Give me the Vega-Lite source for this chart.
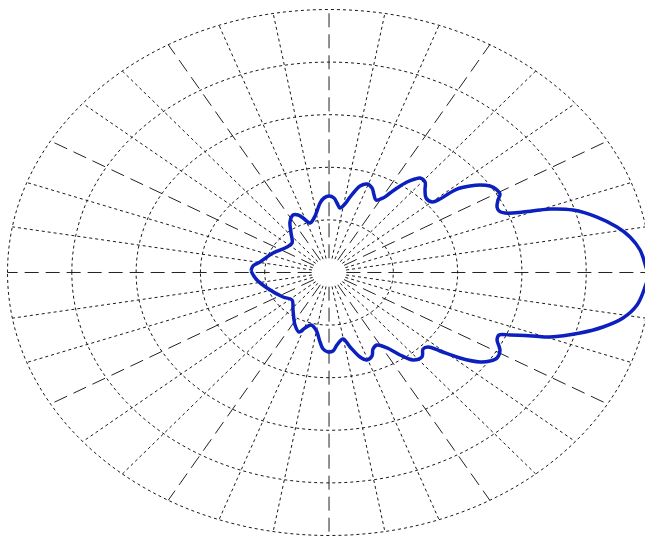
{
  "$schema": "https://vega.github.io/schema/vega-lite/v6.json",
  "width": 645,
  "height": 538,
  "autosize": "none",
  "padding": 0,
  "background": "white",
  "config": {"view": {"stroke": null}},
  "datasets": {
    "rings": [{"r": 1}, {"r": 2}, {"r": 3}, {"r": 4}, {"r": 5}],
    "spokes": [
      {"a": 0, "kind": "major", "x": 0.27, "y": 0, "x2": 5, "y2": 0},
      {"a": 10, "kind": "minor", "x": 0.266, "y": 0.047, "x2": 4.924, "y2": 0.868},
      {"a": 20, "kind": "minor", "x": 0.254, "y": 0.092, "x2": 4.698, "y2": 1.71},
      {"a": 30, "kind": "major", "x": 0.234, "y": 0.135, "x2": 4.33, "y2": 2.5},
      {"a": 40, "kind": "minor", "x": 0.207, "y": 0.174, "x2": 3.83, "y2": 3.214},
      {"a": 50, "kind": "minor", "x": 0.174, "y": 0.207, "x2": 3.214, "y2": 3.83},
      {"a": 60, "kind": "major", "x": 0.135, "y": 0.234, "x2": 2.5, "y2": 4.33},
      {"a": 70, "kind": "minor", "x": 0.092, "y": 0.254, "x2": 1.71, "y2": 4.698},
      {"a": 80, "kind": "minor", "x": 0.047, "y": 0.266, "x2": 0.868, "y2": 4.924},
      {"a": 90, "kind": "major", "x": 0, "y": 0.27, "x2": 0, "y2": 5},
      {"a": 100, "kind": "minor", "x": -0.047, "y": 0.266, "x2": -0.868, "y2": 4.924},
      {"a": 110, "kind": "minor", "x": -0.092, "y": 0.254, "x2": -1.71, "y2": 4.698},
      {"a": 120, "kind": "major", "x": -0.135, "y": 0.234, "x2": -2.5, "y2": 4.33},
      {"a": 130, "kind": "minor", "x": -0.174, "y": 0.207, "x2": -3.214, "y2": 3.83},
      {"a": 140, "kind": "minor", "x": -0.207, "y": 0.174, "x2": -3.83, "y2": 3.214},
      {"a": 150, "kind": "major", "x": -0.234, "y": 0.135, "x2": -4.33, "y2": 2.5},
      {"a": 160, "kind": "minor", "x": -0.254, "y": 0.092, "x2": -4.698, "y2": 1.71},
      {"a": 170, "kind": "minor", "x": -0.266, "y": 0.047, "x2": -4.924, "y2": 0.868},
      {"a": 180, "kind": "major", "x": -0.27, "y": 0, "x2": -5, "y2": 0},
      {"a": 190, "kind": "minor", "x": -0.266, "y": -0.047, "x2": -4.924, "y2": -0.868},
      {"a": 200, "kind": "minor", "x": -0.254, "y": -0.092, "x2": -4.698, "y2": -1.71},
      {"a": 210, "kind": "major", "x": -0.234, "y": -0.135, "x2": -4.33, "y2": -2.5},
      {"a": 220, "kind": "minor", "x": -0.207, "y": -0.174, "x2": -3.83, "y2": -3.214},
      {"a": 230, "kind": "minor", "x": -0.174, "y": -0.207, "x2": -3.214, "y2": -3.83},
      {"a": 240, "kind": "major", "x": -0.135, "y": -0.234, "x2": -2.5, "y2": -4.33},
      {"a": 250, "kind": "minor", "x": -0.092, "y": -0.254, "x2": -1.71, "y2": -4.698},
      {"a": 260, "kind": "minor", "x": -0.047, "y": -0.266, "x2": -0.868, "y2": -4.924},
      {"a": 270, "kind": "major", "x": 0, "y": -0.27, "x2": 0, "y2": -5},
      {"a": 280, "kind": "minor", "x": 0.047, "y": -0.266, "x2": 0.868, "y2": -4.924},
      {"a": 290, "kind": "minor", "x": 0.092, "y": -0.254, "x2": 1.71, "y2": -4.698},
      {"a": 300, "kind": "major", "x": 0.135, "y": -0.234, "x2": 2.5, "y2": -4.33},
      {"a": 310, "kind": "minor", "x": 0.174, "y": -0.207, "x2": 3.214, "y2": -3.83},
      {"a": 320, "kind": "minor", "x": 0.207, "y": -0.174, "x2": 3.83, "y2": -3.214},
      {"a": 330, "kind": "major", "x": 0.234, "y": -0.135, "x2": 4.33, "y2": -2.5},
      {"a": 340, "kind": "minor", "x": 0.254, "y": -0.092, "x2": 4.698, "y2": -1.71},
      {"a": 350, "kind": "minor", "x": 0.266, "y": -0.047, "x2": 4.924, "y2": -0.868}
    ],
    "pattern": [
      {"i": 1, "x": -1.213, "y": 0.029},
      {"i": 2, "x": -1.182, "y": 0.124},
      {"i": 3, "x": -1.073, "y": 0.2},
      {"i": 4, "x": -0.871, "y": 0.371},
      {"i": 5, "x": -0.653, "y": 0.485},
      {"i": 6, "x": -0.575, "y": 0.561},
      {"i": 7, "x": -0.591, "y": 0.751},
      {"i": 8, "x": -0.607, "y": 0.96},
      {"i": 9, "x": -0.56, "y": 1.093},
      {"i": 10, "x": -0.482, "y": 1.093},
      {"i": 11, "x": -0.404, "y": 1.036},
      {"i": 12, "x": -0.295, "y": 0.941},
      {"i": 13, "x": -0.233, "y": 1.036},
      {"i": 14, "x": -0.187, "y": 1.169},
      {"i": 15, "x": -0.14, "y": 1.321},
      {"i": 16, "x": -0.078, "y": 1.416},
      {"i": 17, "x": 0, "y": 1.454},
      {"i": 18, "x": 0.078, "y": 1.416},
      {"i": 19, "x": 0.124, "y": 1.321},
      {"i": 20, "x": 0.171, "y": 1.226},
      {"i": 21, "x": 0.233, "y": 1.283},
      {"i": 22, "x": 0.327, "y": 1.435},
      {"i": 23, "x": 0.404, "y": 1.549},
      {"i": 24, "x": 0.482, "y": 1.644},
      {"i": 25, "x": 0.591, "y": 1.683},
      {"i": 26, "x": 0.669, "y": 1.606},
      {"i": 27, "x": 0.7, "y": 1.473},
      {"i": 28, "x": 0.731, "y": 1.378},
      {"i": 29, "x": 0.84, "y": 1.416},
      {"i": 30, "x": 0.949, "y": 1.511},
      {"i": 31, "x": 1.058, "y": 1.606},
      {"i": 32, "x": 1.213, "y": 1.721},
      {"i": 33, "x": 1.337, "y": 1.778},
      {"i": 34, "x": 1.415, "y": 1.797},
      {"i": 35, "x": 1.493, "y": 1.721},
      {"i": 36, "x": 1.493, "y": 1.568},
      {"i": 37, "x": 1.509, "y": 1.416},
      {"i": 38, "x": 1.602, "y": 1.34},
      {"i": 39, "x": 1.726, "y": 1.397},
      {"i": 40, "x": 1.851, "y": 1.492},
      {"i": 41, "x": 1.991, "y": 1.587},
      {"i": 42, "x": 2.193, "y": 1.644},
      {"i": 43, "x": 2.348, "y": 1.663},
      {"i": 44, "x": 2.504, "y": 1.644},
      {"i": 45, "x": 2.597, "y": 1.587},
      {"i": 46, "x": 2.659, "y": 1.492},
      {"i": 47, "x": 2.628, "y": 1.378},
      {"i": 48, "x": 2.613, "y": 1.245},
      {"i": 49, "x": 2.644, "y": 1.169},
      {"i": 50, "x": 2.737, "y": 1.131},
      {"i": 51, "x": 3.017, "y": 1.15},
      {"i": 52, "x": 3.281, "y": 1.188},
      {"i": 53, "x": 3.437, "y": 1.207},
      {"i": 54, "x": 3.795, "y": 1.188},
      {"i": 55, "x": 4.168, "y": 1.055},
      {"i": 56, "x": 4.479, "y": 0.865},
      {"i": 57, "x": 4.681, "y": 0.675},
      {"i": 58, "x": 4.837, "y": 0.428},
      {"i": 59, "x": 4.914, "y": 0.162},
      {"i": 60, "x": 4.961, "y": -0.067},
      {"i": 61, "x": 4.914, "y": -0.276},
      {"i": 62, "x": 4.79, "y": -0.618},
      {"i": 63, "x": 4.572, "y": -0.865},
      {"i": 64, "x": 4.261, "y": -1.036},
      {"i": 65, "x": 3.904, "y": -1.15},
      {"i": 66, "x": 3.437, "y": -1.226},
      {"i": 67, "x": 3.173, "y": -1.207},
      {"i": 68, "x": 2.815, "y": -1.188},
      {"i": 69, "x": 2.644, "y": -1.188},
      {"i": 70, "x": 2.613, "y": -1.283},
      {"i": 71, "x": 2.659, "y": -1.473},
      {"i": 72, "x": 2.613, "y": -1.625},
      {"i": 73, "x": 2.504, "y": -1.683},
      {"i": 74, "x": 2.348, "y": -1.702},
      {"i": 75, "x": 2.037, "y": -1.625},
      {"i": 76, "x": 1.726, "y": -1.492},
      {"i": 77, "x": 1.54, "y": -1.416},
      {"i": 78, "x": 1.462, "y": -1.454},
      {"i": 79, "x": 1.446, "y": -1.606},
      {"i": 80, "x": 1.306, "y": -1.663},
      {"i": 81, "x": 1.104, "y": -1.568},
      {"i": 82, "x": 0.902, "y": -1.435},
      {"i": 83, "x": 0.747, "y": -1.378},
      {"i": 84, "x": 0.684, "y": -1.454},
      {"i": 85, "x": 0.669, "y": -1.587},
      {"i": 86, "x": 0.591, "y": -1.663},
      {"i": 87, "x": 0.482, "y": -1.606},
      {"i": 88, "x": 0.327, "y": -1.416},
      {"i": 89, "x": 0.218, "y": -1.264},
      {"i": 90, "x": 0.124, "y": -1.378},
      {"i": 91, "x": 0.062, "y": -1.492},
      {"i": 92, "x": -0.016, "y": -1.511},
      {"i": 93, "x": -0.093, "y": -1.454},
      {"i": 94, "x": -0.14, "y": -1.321},
      {"i": 95, "x": -0.202, "y": -1.093},
      {"i": 96, "x": -0.28, "y": -0.998},
      {"i": 97, "x": -0.373, "y": -1.055},
      {"i": 98, "x": -0.467, "y": -1.131},
      {"i": 99, "x": -0.529, "y": -0.998},
      {"i": 100, "x": -0.56, "y": -0.713},
      {"i": 101, "x": -0.575, "y": -0.523},
      {"i": 102, "x": -0.715, "y": -0.466},
      {"i": 103, "x": -0.964, "y": -0.295},
      {"i": 104, "x": -1.135, "y": -0.124},
      {"i": 105, "x": -1.213, "y": 0.029}
    ]
  },
  "layer": [
    {
      "data": {"name": "spokes"},
      "mark": {"type": "rule", "strokeWidth": 1},
      "encoding": {
        "x": {"field": "x", "type": "quantitative", "scale": {"domain": [-5.117, 4.914], "nice": false, "zero": false}, "axis": null},
        "y": {"field": "y", "type": "quantitative", "scale": {"domain": [-5.048, 5.181], "nice": false, "zero": false}, "axis": null},
        "x2": {"field": "x2"},
        "y2": {"field": "y2"},
        "strokeDash": {"field": "kind", "type": "nominal", "scale": {"domain": ["major", "minor"], "range": [[14, 7], [3, 3]]}, "legend": null},
        "color": {"field": "kind", "type": "nominal", "scale": {"domain": ["major", "minor"], "range": ["#222222", "#1a1a1a"]}, "legend": null}
      }
    },
    {
      "data": {"name": "rings"},
      "mark": {"type": "point", "shape": "M -1 0 A 1 0.818 0 1 1 1 0 A 1 0.818 0 1 1 -1 0 Z", "filled": false, "stroke": "#1a1a1a", "strokeWidth": 1, "strokeDash": [3, 3], "opacity": 1},
      "encoding": {
        "x": {"datum": 0, "type": "quantitative"},
        "y": {"datum": 0, "type": "quantitative"},
        "size": {"field": "r", "type": "quantitative", "scale": {"type": "pow", "exponent": 2, "domain": [0, 5], "range": [0, 413449]}, "legend": null}
      }
    },
    {
      "data": {"name": "pattern"},
      "mark": {"type": "line", "stroke": "#0c1fbf", "strokeWidth": 3.5, "strokeJoin": "round", "interpolate": "catmull-rom"},
      "encoding": {
        "x": {"field": "x", "type": "quantitative"},
        "y": {"field": "y", "type": "quantitative"},
        "order": {"field": "i", "type": "quantitative"}
      }
    }
  ]
}
